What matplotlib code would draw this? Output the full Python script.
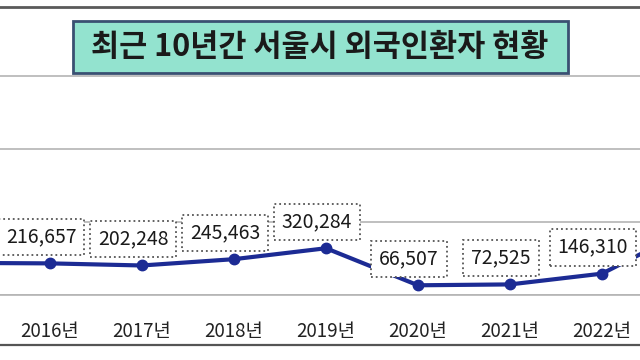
import matplotlib
matplotlib.use("Agg")
import matplotlib.pyplot as plt
import matplotlib.patches as patches
from matplotlib.lines import Line2D

plt.rcParams['font.family'] = ['Noto Sans CJK KR', 'DejaVu Sans']

# 데이터 (2015년, 2023년 값은 그림 밖이라 추정치)
years = ['2015년', '2016년', '2017년', '2018년', '2019년', '2020년', '2021년', '2022년', '2023년']
patients = [220000, 216657, 202248, 245463, 320284, 66507, 72525, 146310, 466000]
title = '최근 10년간 서울시 외국인환자 현황'

fig = plt.figure(figsize=(6.4, 3.6), dpi=100)
ax = fig.add_axes([0, 65 / 360, 1, 288 / 360])

x = list(range(len(years)))
ax.plot(x, patients, color='#1c2b94', lw=3, marker='o', ms=7.5, zorder=3)

# 데이터 라벨 (점선 박스)
for xi, v in zip(x, patients):
    ax.annotate(f'{v:,}', (xi, v), xytext=(-6.5, 19), textcoords='offset points',
                ha='center', va='center', fontsize=14, color='#1a1a1a', zorder=4,
                bbox=dict(boxstyle='square,pad=0.4', fc='white', ec='#555555',
                          ls=':', lw=1.3))

ax.set_xticks(x)
ax.set_xticklabels(years, fontsize=13.5, color='#222222')
ax.tick_params(axis='x', length=0, pad=19)
ax.set_yticks([0, 500000, 1000000, 1500000])
ax.yaxis.grid(True, color='#b4b4b4', lw=1.2)
ax.set_axisbelow(True)
ax.tick_params(axis='y', left=False, labelleft=False)
# 그림 밖으로 잘린 구간 (2016년이 x=50px 근처)
ax.set_xlim(42 / 92, 682 / 92)
ax.set_ylim(0, 1973000)

for s in ['left', 'right']:
    ax.spines[s].set_visible(False)
ax.spines['bottom'].set_color('#b4b4b4')
ax.spines['bottom'].set_linewidth(1.2)
ax.spines['top'].set_color('#5a5a5a')
ax.spines['top'].set_linewidth(2)

# 아래쪽 테두리 선
fig.add_artist(Line2D([0, 1], [15 / 360, 15 / 360], transform=fig.transFigure,
                      color='#555555', lw=1.6))

# 제목 박스
fig.add_artist(patches.Rectangle((73 / 640, 1 - 73 / 360), 495 / 640, 52 / 360,
                                 transform=fig.transFigure, facecolor='#93e3cf',
                                 edgecolor='#3a5072', lw=2, zorder=5))
fig.text(320 / 640, 1 - 47 / 360, title, ha='center', va='center', fontsize=22,
         fontweight='bold', color='#1a1a1a', zorder=6)

fig.savefig('out.png', dpi=100)
